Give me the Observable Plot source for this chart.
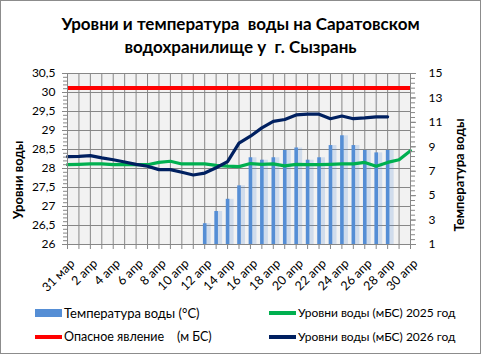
<!DOCTYPE html>
<html>
<head>
<meta charset="utf-8">
<script src="https://cdn.jsdelivr.net/npm/d3@7"></script>
<script src="https://cdn.jsdelivr.net/npm/@observablehq/plot@0.6"></script>
<style>
  html, body { margin: 0; padding: 0; background: #fff; }
  #wrap { position: relative; width: 481px; height: 354px; overflow: hidden; font-family: "Lato", "Open Sans", sans-serif; color: #000; }
  #border { position: absolute; left: 0; top: 0; width: 479px; height: 352px; border: 1px solid #8c8c8c; pointer-events: none; }
  .title { position: absolute; left: 0; width: 481px; text-align: center; font-weight: bold; font-size: 17px; white-space: pre; line-height: 23px; }
  #chart { position: absolute; left: 0; top: 62px; }
  .ylab { position: absolute; font-weight: bold; font-size: 13px; white-space: pre; transform: translate(-50%, -50%) rotate(-90deg); }
  .leg { position: absolute; font-size: 12px; white-space: pre; line-height: 14px; }
  .sw { position: absolute; }
</style>
</head>
<body>
<div id="wrap">
  <div class="title" style="top:12px;">Уровни и температура  воды на Саратовском</div>
  <div class="title" style="top:35px;">водохранилище у  г. Сызрань</div>
  <div id="chart"></div>
  <div class="ylab" style="left:18px; top:180px;">Уровни воды</div>
  <div class="ylab" style="left:459px; top:175px;">Температура воды</div>

  <div class="sw" style="left:35px; top:309px; width:27px; height:8px; background:#558ed5;"></div>
  <div class="leg" style="left:64px; top:306px; font-size:13px;">Температура воды (°С)</div>
  <div class="sw" style="left:35px; top:335px; width:27px; height:4px; background:#ff0000;"></div>
  <div class="leg" style="left:64px; top:330px; font-size:12.5px;">Опасное явление    (м БС)</div>
  <div class="sw" style="left:269px; top:311px; width:27px; height:4px; background:#00b050;"></div>
  <div class="leg" style="left:298px; top:306px;">Уровни воды (мБС) 2025 год</div>
  <div class="sw" style="left:269px; top:335px; width:27px; height:4px; background:#002060;"></div>
  <div class="leg" style="left:298px; top:330px;">Уровни воды (мБС) 2026 год</div>
  <div id="border"></div>
</div>
<script>
// ---- data ----
const dates = ["31 мар","1 апр","2 апр","3 апр","4 апр","5 апр","6 апр","7 апр","8 апр","9 апр","10 апр",
  "11 апр","12 апр","13 апр","14 апр","15 апр","16 апр","17 апр","18 апр","19 апр","20 апр",
  "21 апр","22 апр","23 апр","24 апр","25 апр","26 апр","27 апр","28 апр","29 апр","30 апр"];

const level2025 = [28.10,28.11,28.12,28.12,28.10,28.11,28.10,28.10,28.16,28.19,28.12,
  28.12,28.12,28.08,28.06,28.05,28.13,28.11,28.12,28.07,28.11,
  28.10,28.10,28.11,28.12,28.12,28.16,28.06,28.16,28.23,28.47];

const level2026 = [28.31,28.32,28.34,28.28,28.23,28.17,28.11,28.06,27.97,27.97,27.90,
  27.83,27.88,28.02,28.18,28.67,28.85,29.07,29.24,29.29,29.41,
  29.43,29.43,29.31,29.38,29.31,29.33,29.36,29.36,null,null];

const waterTemp = [null,null,null,null,null,null,null,null,null,null,null,
  null,2.7,3.7,4.7,5.8,8.1,7.9,8.1,8.7,8.9,
  7.9,8.1,9.1,9.9,9.1,8.7,8.5,8.7,null,null];

const dangerLevel = [30.12];

const leftTicks = [26,26.5,27,27.5,28,28.5,29,29.5,30,30.5];
const rightTicks = [1,3,5,7,9,11,13,15];

// ---- secondary-axis mapping (temperature 1..15 onto level 26..30.5) ----
const T0 = 1, T1 = 15, L0 = 26, L1 = 30.5;
const t2l = t => L0 + (t - T0) * (L1 - L0) / (T1 - T0);
const l2t = l => T0 + (l - L0) * (T1 - T0) / (L1 - L0);

const idx = d3.range(dates.length);
const rows = idx.map(i => ({i, l25: level2025[i], l26: level2026[i], t: waterTemp[i]}));
const bars = rows.filter(d => d.t != null);

const grid = "#878787";
const comma = d => String(d).replace(".", ",");

const chart = Plot.plot({
  width: 481,
  height: 238,
  marginLeft: 67,
  marginRight: 71,
  marginTop: 11,
  marginBottom: 56,
  style: {fontFamily: '"Lato", "Open Sans", sans-serif', fontSize: "12px", color: "#000", background: "transparent"},
  x: {type: "linear", domain: [0, dates.length - 1]},
  y: {domain: [L0, L1]},
  marks: [
    Plot.frame({fill: "#f2f2f2", stroke: null}),
    Plot.gridY(leftTicks, {stroke: grid, strokeOpacity: 1}),
    Plot.gridX(idx, {stroke: grid, strokeOpacity: 1}),
    // bars (temperature) with soft shadow
    Plot.ruleX(bars, {x: "i", y1: L0, y2: d => t2l(d.t), stroke: "#558ed5", strokeWidth: 6, strokeOpacity: 0.22, dx: 3}),
    Plot.ruleX(bars, {x: "i", y1: L0, y2: d => t2l(d.t), stroke: "#558ed5", strokeWidth: 3.6}),
    // lines
    Plot.ruleY(dangerLevel, {stroke: "#ff0000", strokeWidth: 4}),
    Plot.lineY(rows, {x: "i", y: "l25", stroke: "#00b050", strokeWidth: 3.2, curve: "linear"}),
    Plot.lineY(rows.filter(d => d.l26 != null), {x: "i", y: "l26", stroke: "#002060", strokeWidth: 3.2}),
    // axis lines
    Plot.ruleX([0], {stroke: grid}),
    Plot.ruleX([dates.length - 1], {stroke: grid}),
    Plot.ruleY([L0], {stroke: grid}),
    // left axis
    Plot.axisY(d3.range(26, 30.501, 0.1), {anchor: "left", tickSize: 4, tickFormat: () => "", stroke: grid}),
    Plot.axisY(leftTicks, {anchor: "left", tickSize: 5, tickPadding: 7, tickFormat: comma, stroke: grid, label: null}),
    // right axis (temperature)
    Plot.axisY(d3.range(1, 15.001, 0.4).map(t2l), {anchor: "right", tickSize: 4, tickFormat: () => "", stroke: grid}),
    Plot.axisY(rightTicks.map(t2l), {anchor: "right", tickSize: 5, tickPadding: 13, tickFormat: l => Math.round(l2t(l)), stroke: grid, label: null}),
    // x axis
    Plot.axisX(idx, {tickSize: 5, tickFormat: () => "", stroke: grid, label: null}),
    Plot.axisX(d3.range(0, dates.length, 2), {tickSize: 0, tickPadding: 8, tickRotate: -45, tickFormat: i => dates[i], label: null, dx: 5, dy: 9, fontSize: 12.5})
  ]
});
document.getElementById("chart").appendChild(chart);
</script>
</body>
</html>
